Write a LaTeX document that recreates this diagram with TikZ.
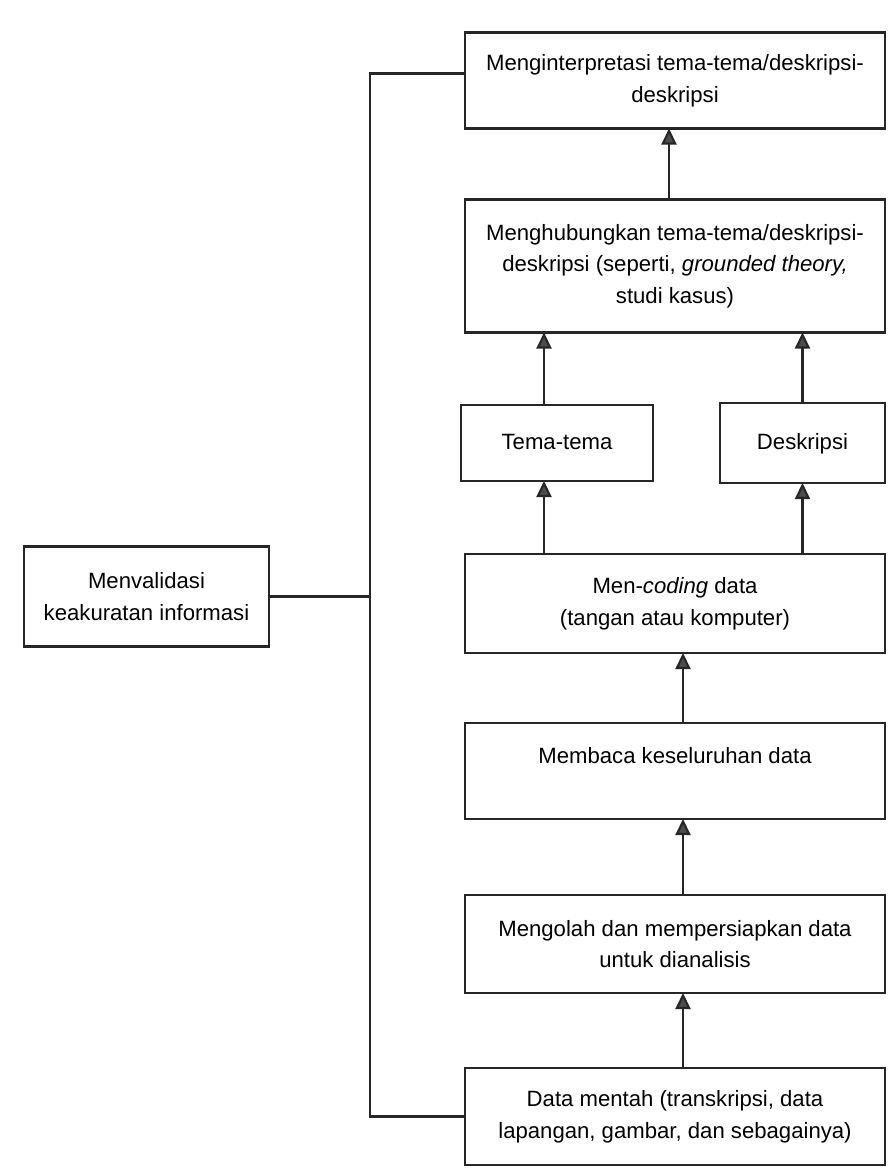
\documentclass[tikz,border=0pt]{standalone}
\usepackage{fontspec}
\setmainfont{Liberation Sans}
\usetikzlibrary{arrows.meta,positioning}
\tikzset{blk/.style={draw=black!85,line width=1.2pt,outer sep=0pt,minimum width=8.4cm,font=\fontsize{12.6pt}{18pt}\selectfont,align=center},
         ar/.style={draw=black!85,line width=1.2pt,-{Triangle[length=3.2mm,width=3mm,fill=black!70]}},
         bus/.style={draw=black!85,line width=1.2pt}}

\begin{document}
\begin{tikzpicture}[node distance=1.45cm]
\useasboundingbox (0,0) rectangle (17.74,-23.46);
\node[blk,minimum height=1.94cm] (mentah) at (13.5,-22.33) {Data mentah (transkripsi, data\\lapangan, gambar, dan sebagainya)};
\node[blk,minimum height=1.96cm,above=1.5cm of mentah] (olah) {Mengolah dan mempersiapkan data\\untuk dianalisis};
\node[blk,minimum height=1.92cm,above=1.52cm of olah] (baca) {Membaca keseluruhan data\\\mbox{}};
\node[blk,minimum height=1.98cm,above=1.4cm of baca] (coding) {Men-\textit{coding} data\\(tangan atau komputer)};
\node[blk,minimum width=3.84cm,minimum height=1.52cm,above=1.46cm of coding.north west,anchor=south west,xshift=-0.08cm] (tema) {\strut Tema-tema};
\node[blk,minimum width=3.3cm,minimum height=1.6cm,anchor=east] (desk) at (coding.east |- tema) {\strut Deskripsi};
\node[blk,minimum height=2.66cm,above=4.43cm of coding] (hub) {Menghubungkan tema-tema/deskripsi-\\deskripsi (seperti, \textit{grounded theory,}\\studi kasus)};
\node[blk,minimum height=1.92cm,above=1.42cm of hub] (interp) {Menginterpretasi tema-tema/deskripsi-\\deskripsi};
\node[blk,minimum width=4.9cm,minimum height=2cm,left=3.92cm of coding,yshift=1.4mm] (valid) {Menvalidasi\\keakuratan informasi};
% arus ke atas
\draw[ar] ([xshift=1.6mm]mentah.north) -- ([xshift=1.6mm]olah.south);
\draw[ar] ([xshift=1.6mm]olah.north) -- ([xshift=1.6mm]baca.south);
\draw[ar] ([xshift=1.6mm]baca.north) -- ([xshift=1.6mm]coding.south);
\draw[ar] ([xshift=-2.6mm]tema.south |- coding.north) -- ([xshift=-2.6mm]tema.south);
\draw[ar] (coding.north -| desk) -- (desk);
\draw[ar] ([xshift=-2.6mm]tema.north) -- ([xshift=-2.6mm]tema.north |- hub.south);
\draw[ar] (desk) -- (hub.south -| desk);
\draw[ar] ([xshift=-1.2mm]hub.north) -- ([xshift=-1.2mm]interp.south);
% garis validasi
\coordinate (b) at (7.4,0);
\draw[bus] ([yshift=1.4mm]interp.west) -- ([yshift=1.4mm]interp.west -| b) -- (mentah.west -| b) -- (mentah.west);
\draw[bus] (valid) -- (valid -| b);
\end{tikzpicture}
\end{document}
